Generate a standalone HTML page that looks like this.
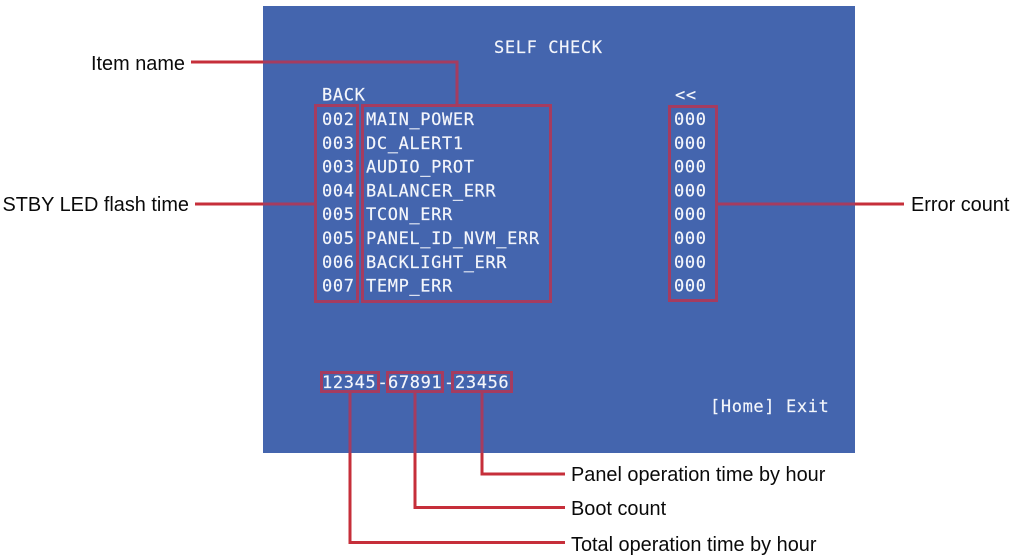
<!DOCTYPE html>
<html><head><meta charset="utf-8">
<style>
html,body{margin:0;padding:0;background:#fff;width:1014px;height:557px;overflow:hidden}
svg{display:block}
.m{font-family:"DejaVu Sans Mono","Liberation Mono",monospace;font-size:17px;fill:#f4f6fb;letter-spacing:0.62px;stroke:#f4f6fb;stroke-width:0.15}
.l{font-family:"Liberation Sans",Arial,sans-serif;font-size:19.9px;fill:#0a0a0a}
.r{fill:none;stroke:#a53c60;stroke-width:3}
.w{fill:none;stroke:#c62f3a;stroke-width:3}
</style></head>
<body>
<svg width="1014" height="557" viewBox="0 0 1014 557" xmlns="http://www.w3.org/2000/svg">
<rect x="263" y="6" width="592" height="447" fill="#4465ae"/>

<text class="m" x="494" y="53">SELF CHECK</text>
<text class="m" x="322" y="100.7">BACK</text>
<text class="m" x="675" y="100.7">&lt;&lt;</text>

<text class="m" x="322" y="125">002</text>
<text class="m" x="322" y="148.8">003</text>
<text class="m" x="322" y="172.6">003</text>
<text class="m" x="322" y="196.4">004</text>
<text class="m" x="322" y="220.2">005</text>
<text class="m" x="322" y="244">005</text>
<text class="m" x="322" y="267.8">006</text>
<text class="m" x="322" y="291.6">007</text>

<text class="m" x="366" y="125">MAIN_POWER</text>
<text class="m" x="366" y="148.8">DC_ALERT1</text>
<text class="m" x="366" y="172.6">AUDIO_PROT</text>
<text class="m" x="366" y="196.4">BALANCER_ERR</text>
<text class="m" x="366" y="220.2">TCON_ERR</text>
<text class="m" x="366" y="244">PANEL_ID_NVM_ERR</text>
<text class="m" x="366" y="267.8">BACKLIGHT_ERR</text>
<text class="m" x="366" y="291.6">TEMP_ERR</text>

<text class="m" x="674" y="125">000</text>
<text class="m" x="674" y="148.8">000</text>
<text class="m" x="674" y="172.6">000</text>
<text class="m" x="674" y="196.4">000</text>
<text class="m" x="674" y="220.2">000</text>
<text class="m" x="674" y="244">000</text>
<text class="m" x="674" y="267.8">000</text>
<text class="m" x="674" y="291.6">000</text>

<text class="m" x="322" y="388">12345</text>
<text class="m" x="377.5" y="388">-</text>
<text class="m" x="388" y="388">67891</text>
<text class="m" x="444" y="388">-</text>
<text class="m" x="455" y="388">23456</text>
<text class="m" x="710" y="412">[Home] Exit</text>

<!-- boxes -->
<rect class="r" x="315.5" y="105.5" width="42" height="196"/>
<rect class="r" x="362.5" y="105.5" width="188" height="196"/>
<rect class="r" x="669.5" y="106.5" width="47" height="194"/>
<rect class="r" x="321.5" y="372.5" width="57" height="19"/>
<rect class="r" x="387.5" y="372.5" width="55" height="19"/>
<rect class="r" x="452.5" y="372.5" width="59" height="19"/>

<!-- connectors inside panel -->
<path class="r" d="M263 62H457V105"/>
<path class="r" d="M263 204H315"/>
<path class="r" d="M717 204H855"/>
<path class="r" d="M350 392V453"/>
<path class="r" d="M415 392V453"/>
<path class="r" d="M482 392V453"/>

<!-- connectors outside panel -->
<path class="w" d="M191 62H263"/>
<path class="w" d="M195 204H263"/>
<path class="w" d="M855 204H904"/>
<path class="w" d="M350 453V542.5H565"/>
<path class="w" d="M415 453V507.5H565"/>
<path class="w" d="M482 453V474H565"/>

<!-- labels -->
<text class="l" x="91" y="70">Item name</text>
<text class="l" x="2.5" y="211">STBY LED flash time</text>
<text class="l" x="911" y="211">Error count</text>
<text class="l" x="571" y="481">Panel operation time by hour</text>
<text class="l" x="571" y="515">Boot count</text>
<text class="l" x="571" y="551">Total operation time by hour</text>
</svg>
</body></html>
